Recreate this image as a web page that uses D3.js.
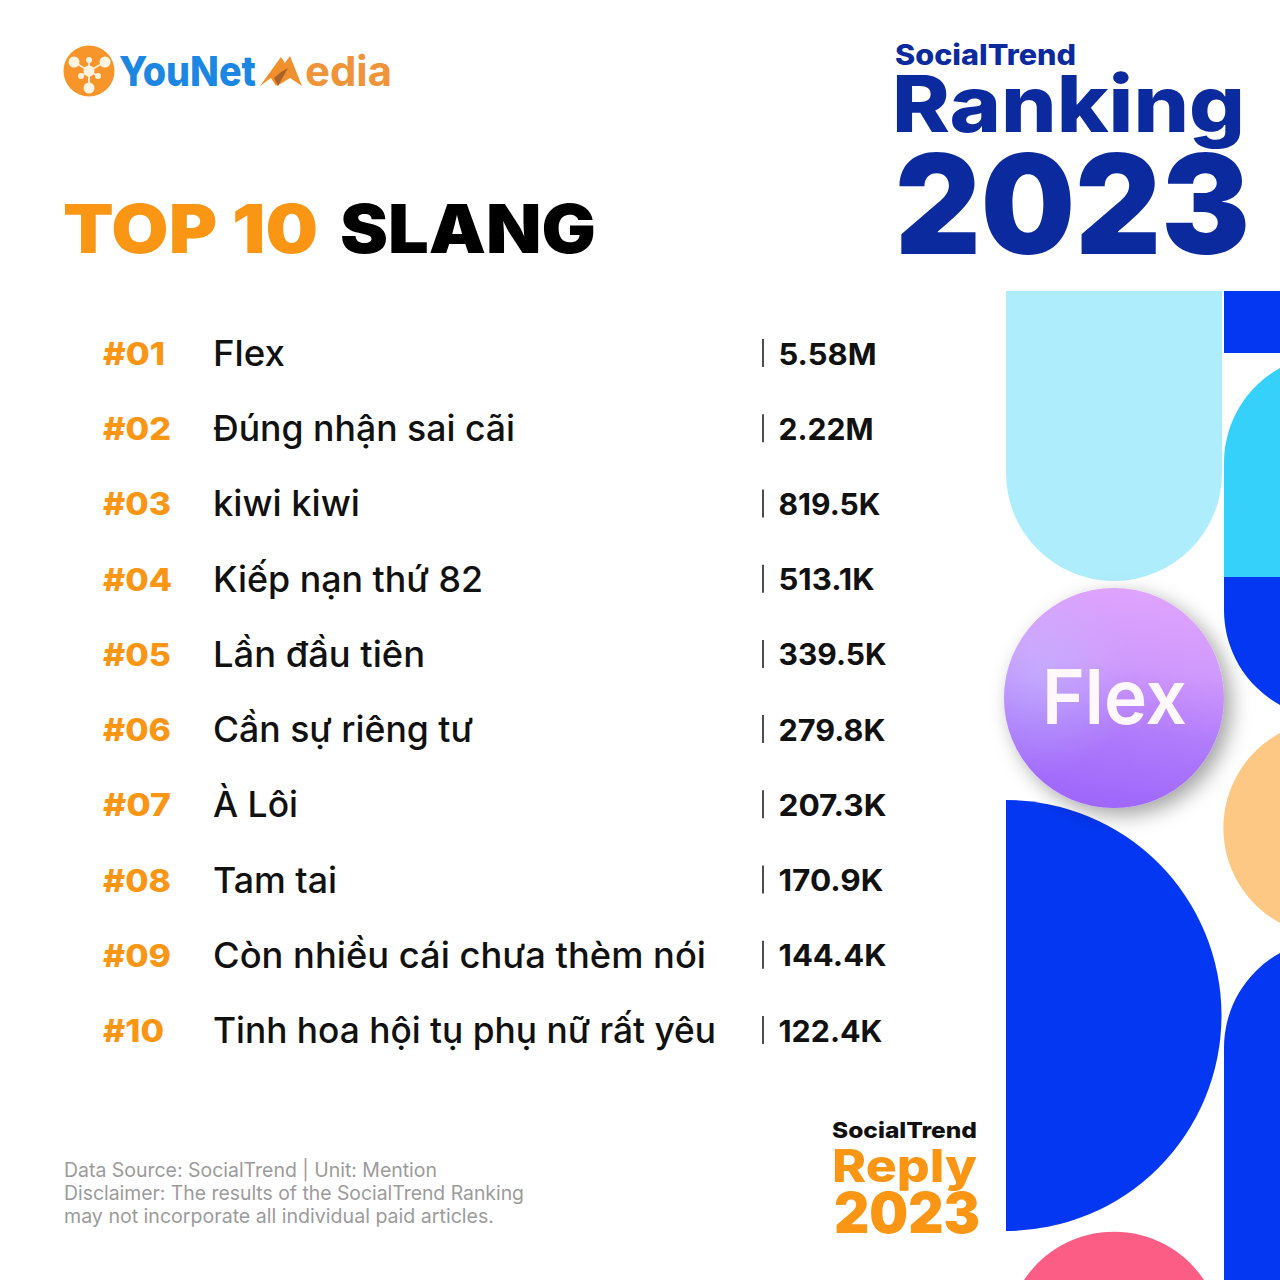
<!DOCTYPE html>
<html>
<head>
	<meta charset="utf-8">
	<title>Top 10 Slang</title>
	<script src="https://d3js.org/d3.v7.min.js"></script>
	<style>
		html,body{margin:0;padding:0;background:#fff;}
		svg{display:block;}
		text{font-family:Inter,"Noto Sans",sans-serif;}
	</style>
</head>
<body>
	<div id="chart"></div>
	<script>
		var ranks = ["#01","#02","#03","#04","#05","#06","#07","#08","#09","#10"];
		var slangs = ["Flex","Đúng nhận sai cãi","kiwi kiwi","Kiếp nạn thứ 82","Lần đầu tiên","Cần sự riêng tư","À Lôi","Tam tai","Còn nhiều cái chưa thèm nói","Tinh hoa hội tụ phụ nữ rất yêu"];
		var mentions = ["5.58M","2.22M","819.5K","513.1K","339.5K","279.8K","207.3K","170.9K","144.4K","122.4K"];
		var footnotes = ["Data Source: SocialTrend | Unit: Mention","Disclaimer: The results of the SocialTrend Ranking","may not incorporate all individual paid articles."];

		// drawn widths, the reference font is wider than Inter
		var rankFit = [62,68,68,69,68,68,68,68,68,61];
		var slangFit = [72,302,147,270,212,260,85,124,493,503];
		var mentionFit = [98,95,102,96,108,107,108,105,108,104];
		var footFit = [373,460,430];

		var orange = "#FA9613", navy = "#0A2A9E", royal = "#0437F2";

		var svg = d3.select("#chart").append("svg").attr("width",1280).attr("height",1280);
		var defs = svg.append("defs");

		var grad = defs.append("linearGradient").attr("id","bubble")
			.attr("x1","0.6").attr("y1","0").attr("x2","0.45").attr("y2","1");
		grad.append("stop").attr("offset","0").attr("stop-color","#DFA4FD");
		grad.append("stop").attr("offset","0.35").attr("stop-color","#CF98FC");
		grad.append("stop").attr("offset","0.65").attr("stop-color","#B07BFB");
		grad.append("stop").attr("offset","1").attr("stop-color","#9E66FB");
		var glow = defs.append("radialGradient").attr("id","glow")
			.attr("cx","0.15").attr("cy","0.4").attr("r","0.45");
		glow.append("stop").attr("offset","0").attr("stop-color","#BFD0FF").attr("stop-opacity",0.4);
		glow.append("stop").attr("offset","1").attr("stop-color","#BFD0FF").attr("stop-opacity",0);
		var shadow = defs.append("filter").attr("id","shade")
			.attr("x","-20%").attr("y","-20%").attr("width","150%").attr("height","150%");
		shadow.append("feDropShadow").attr("dx",7).attr("dy",7).attr("stdDeviation",10)
			.attr("flood-color","#000").attr("flood-opacity",0.36);

		// helper for fitted text
		function label(s,x,y,size,weight,fill,width){
			var t = svg.append("text").attr("x",x).attr("y",y).text(s)
				.attr("font-size",size).attr("font-weight",weight).attr("fill",fill);
			if(width) t.attr("textLength",width).attr("lengthAdjust","spacingAndGlyphs");
			return t;
		}

		// logo
		var logo = svg.append("g");
		logo.append("circle").attr("cx",89).attr("cy",71).attr("r",25.5).attr("fill","#F7952B");
		var hub = [89,71], nodes = [[89,60,3],[74,62,5.5],[105,62,5.5],[81,76,3],[98,76,3],[89,88,5.5]];
		nodes.forEach(function(n){
			logo.append("line").attr("x1",hub[0]).attr("y1",hub[1]).attr("x2",n[0]).attr("y2",n[1])
				.attr("stroke","#FFE9CE").attr("stroke-width",2);
			logo.append("circle").attr("cx",n[0]).attr("cy",n[1]).attr("r",n[2]).attr("fill","#FFF3E2");
		});
		logo.append("circle").attr("cx",89).attr("cy",71).attr("r",5.5).attr("fill","#FFF3E2");
		label("YouNet",119,86,41,800,"#1C86E3",137);
		logo.append("path").attr("d","M260,86L281,57L288,68L276,86L271,78Z").attr("fill","#F28F2B");
		logo.append("path").attr("d","M279,71L290,56L302,86L290,78L277,86Z").attr("fill","#F0912F");
		logo.append("path").attr("d","M281,72L288,68L278,86L274,78Z").attr("fill","#A9622B");
		label("edia",305,86,41,700,"#F0943A",87);

		// title block
		label("TOP 10",63,253,68,900,orange,255);
		label("SLANG",340,253,68,900,"#000",256);
		label("SocialTrend",895,65,28,800,navy,181);
		label("Ranking",892,132,78,800,navy,353);
		label("2023",895,254,139,900,navy,355);

		// decor shapes on the right
		var deco = svg.append("g");
		deco.append("path").attr("d","M1006,291H1222V473A108,108 0 0 1 1006,473Z").attr("fill","#AEEEFC");
		deco.append("rect").attr("x",1224).attr("y",291).attr("width",56).attr("height",62).attr("fill",royal);
		deco.append("path").attr("d","M1280,368A108,108 0 0 0 1224,462V577H1280Z").attr("fill","#36D1FB");
		deco.append("path").attr("d","M1224,577H1280V705A108,108 0 0 1 1224,610Z").attr("fill",royal);
		deco.append("path").attr("d","M1280,733A108,108 0 0 0 1280,923Z").attr("fill","#FDC883");
		deco.append("path").attr("d","M1006,800A215.5,215.5 0 0 1 1006,1231Z").attr("fill",royal);
		deco.append("path").attr("d","M1280,953A108,108 0 0 0 1224,1048V1280H1280Z").attr("fill",royal);
		deco.append("path").attr("d","M1024,1280A108,108 0 0 1 1204,1280Z").attr("fill","#FB5D85");
		deco.append("circle").attr("cx",1114).attr("cy",698).attr("r",110)
			.attr("fill","url(#bubble)").attr("filter","url(#shade)");
		deco.append("circle").attr("cx",1114).attr("cy",698).attr("r",110).attr("fill","url(#glow)");
		label("Flex",1042,724,76,600,"#FFF8FF",145);

		// ranking rows
		var y = d3.scalePoint().domain(ranks).range([353,1030]);
		var rows = svg.append("g").selectAll("g").data(ranks).join("g")
			.attr("transform",function(d){ return "translate(0,"+y(d)+")"; });
		rows.append("text").attr("x",103).attr("y",12).text(function(d){ return d; })
			.attr("font-size",31).attr("font-weight",800).attr("fill",orange)
			.attr("textLength",function(d,i){ return rankFit[i]; }).attr("lengthAdjust","spacingAndGlyphs");
		rows.append("text").attr("x",213).attr("y",13).text(function(d,i){ return slangs[i]; })
			.attr("font-size",35.5).attr("font-weight",500).attr("fill","#111")
			.attr("textLength",function(d,i){ return slangFit[i]; }).attr("lengthAdjust","spacingAndGlyphs");
		rows.append("line").attr("x1",763).attr("x2",763).attr("y1",-14).attr("y2",14)
			.attr("stroke","#222").attr("stroke-width",1.6);
		rows.append("text").attr("x",778.5).attr("y",11.5).text(function(d,i){ return mentions[i]; })
			.attr("font-size",30).attr("font-weight",700).attr("fill","#111")
			.attr("textLength",function(d,i){ return mentionFit[i]; }).attr("lengthAdjust","spacingAndGlyphs");

		// footnote
		svg.append("g").selectAll("text").data(footnotes).join("text")
			.attr("x",64).attr("y",function(d,i){ return 1177+i*23; })
			.text(function(d){ return d; })
			.attr("font-size",19.5).attr("fill","#9B9B9B")
			.attr("textLength",function(d,i){ return footFit[i]; }).attr("lengthAdjust","spacingAndGlyphs");

		// reply badge
		label("SocialTrend",832,1138,22,800,"#111",145);
		label("Reply",832,1182,45,800,orange,145);
		label("2023",834,1233,56,900,orange,146);
	</script>
</body>
</html>
